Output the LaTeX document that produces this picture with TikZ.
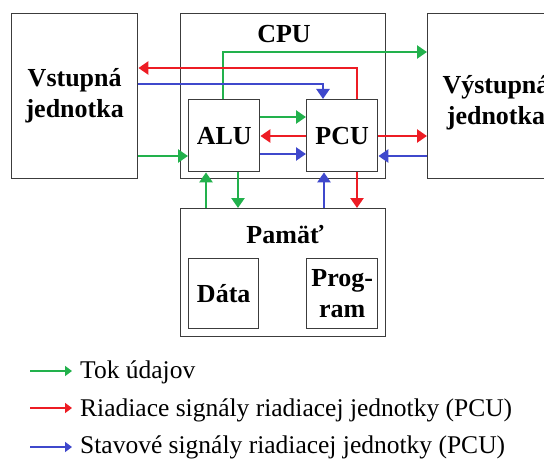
\documentclass[tikz,border=0pt]{standalone}
\usepackage{fontspec}
\setmainfont{Liberation Serif}
\usetikzlibrary{arrows.meta}
\definecolor{cg}{RGB}{34,177,76}
\definecolor{cr}{RGB}{237,28,36}
\definecolor{cb}{RGB}{63,72,204}
\definecolor{bx}{RGB}{60,60,60}
\begin{document}
\begin{tikzpicture}[x=1pt,y=-1pt,
  box/.style={draw=bx, line width=1.4pt, rectangle, inner sep=0pt, anchor=north west},
  lbl/.style={font=\bfseries\fontsize{26}{31}\selectfont, align=center, inner sep=0pt},
  sig/.style={line width=2.8pt, -{Triangle[length=10pt,width=13pt]}},
  gsig/.style={sig, draw=cg},
  rsig/.style={sig, draw=cr},
  bsig/.style={sig, draw=cb},
  leg/.style={line width=2.2pt, -{Triangle[length=7pt,width=10pt]}},
  legtxt/.style={font=\fontsize{25.5}{30}\selectfont, anchor=base west, inner sep=0pt}
]
\useasboundingbox (0,0) rectangle (544,460);
\clip (0,0) rectangle (544,460);
% boxes
\node[box, minimum width=126pt, minimum height=165pt] (vst) at (11,13) {};
\node[lbl] (vstl) at (vst.center) {Vstupná\\jednotka};
\node[box, minimum width=205pt, minimum height=165pt] (cpu) at (180,13) {};
\node[lbl, anchor=base] (cpul) at (284,43) {CPU};
\node[box, minimum width=137pt, minimum height=165pt] (vyst) at (427,13) {};
\node[lbl] (vystl) at (496,103) {Výstupná\\jednotka};
\node[box, minimum width=71pt, minimum height=72pt] (alu) at (188,99) {};
\node[lbl] (alul) at (alu.center) {ALU};
\node[box, minimum width=71pt, minimum height=72pt] (pcu) at (306,99) {};
\node[lbl] (pcul) at (pcu.center) {PCU};
\node[box, minimum width=205pt, minimum height=128pt] (mem) at (180,208) {};
\node[lbl, anchor=base] (meml) at (285,243) {Pamäť};
\node[box, minimum width=70pt, minimum height=70pt] (data) at (188,258) {};
\node[lbl] (datal) at (data.center) {Dáta};
\node[box, minimum width=71pt, minimum height=70pt] (prog) at (306,258) {};
\node[lbl] (progl) at (prog.center) {Prog-\\ram};
% helper coordinates
\coordinate (y52) at (0,52);
\coordinate (y68) at (0,68);
\coordinate (y84) at (0,84);
\coordinate (y117) at (0,117);
\coordinate (y136) at (0,136);
\coordinate (y154) at (0,154);
\coordinate (y156) at (0,156);
\coordinate (x206) at (206,0);
\coordinate (x223) at (223,0);
\coordinate (x238) at (238,0);
\coordinate (x323) at (323,0);
\coordinate (x324) at (324,0);
\coordinate (x357) at (357,0);
% signals
\draw[gsig] (vst.east |- y156) -- (alu.west |- y156);
\draw[gsig] (alu.north -| x223) |- (vyst.west |- y52);
\draw[rsig] (pcu.north -| x357) |- (vst.east |- y68);
\draw[bsig] (vst.east |- y84) -| (pcu.north -| x323);
\draw[gsig] (alu.east |- y117) -- (pcu.west |- y117);
\draw[rsig] (pcu.west |- y136) -- (alu.east |- y136);
\draw[bsig] (alu.east |- y154) -- (pcu.west |- y154);
\draw[rsig] (pcu.east |- y136) -- (vyst.west |- y136);
\draw[bsig] (vyst.west |- y156) -- (pcu.east |- y156);
\draw[gsig] (mem.north -| x206) -- (alu.south -| x206);
\draw[gsig] (alu.south -| x238) -- (mem.north -| x238);
\draw[bsig] (mem.north -| x324) -- (pcu.south -| x324);
\draw[rsig] (pcu.south -| x357) -- (mem.north -| x357);
% legend
\coordinate (lg1a) at (30,371); \coordinate (lg1b) at (72,371);
\coordinate (lg2a) at (30,408); \coordinate (lg2b) at (72,408);
\coordinate (lg3a) at (30,447); \coordinate (lg3b) at (72,447);
\draw[leg, draw=cg] (lg1a) -- (lg1b);
\draw[leg, draw=cr] (lg2a) -- (lg2b);
\draw[leg, draw=cb] (lg3a) -- (lg3b);
\node[legtxt] (t1) at (80,378) {Tok údajov};
\node[legtxt] (t2) at (80,416) {Riadiace signály riadiacej jednotky (PCU)};
\node[legtxt] (t3) at (80,453) {Stavové signály riadiacej jednotky (PCU)};
\end{tikzpicture}
\end{document}
